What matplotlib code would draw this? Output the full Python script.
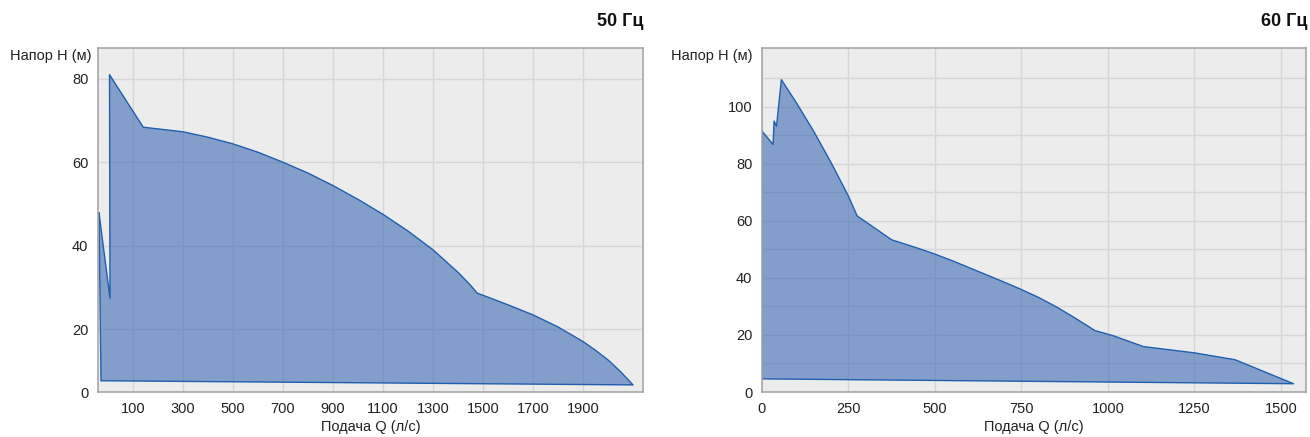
import matplotlib
matplotlib.use("Agg")
import matplotlib.pyplot as plt
import numpy as np

plt.rcParams['font.family'] = ['Liberation Sans', 'DejaVu Sans']

# ---- data: 50 Hz ----
q50_top = [-36, 8, 6, 141, 200, 300, 400, 500, 600, 700, 800, 900, 1000, 1100, 1200, 1300, 1400, 1450, 1477,
           1500, 1600, 1700, 1800, 1900, 1950, 2000, 2050, 2100]
h50_top = [47.8, 27.4, 81.0, 68.4, 68.0, 67.3, 66.0, 64.4, 62.4, 60.0, 57.4, 54.4, 51.1, 47.5, 43.5, 39.0, 33.6, 30.5, 28.6,
           28.1, 25.8, 23.4, 20.5, 17.0, 14.9, 12.6, 9.8, 6.6]
q50_bot = [-28, 2100]
h50_bot = [7.6, 6.6]
x50_ticks = [100, 300, 500, 700, 900, 1100, 1300, 1500, 1700, 1900]
y50_ticks = [20, 40, 60, 80]

# ---- data: 60 Hz ----
q60_top = [0, 32, 35, 42, 56, 100, 150, 200, 250, 275, 375, 450, 500, 550, 600, 650, 700, 750, 800, 850, 900,
           963, 1016, 1103, 1251, 1368, 1537]
h60_top = [91.4, 86.7, 94.9, 93.1, 109.4, 101.2, 91.2, 80.3, 68.6, 61.7, 53.3, 50.4, 48.3, 46.0, 43.5, 41.0, 38.5, 35.9,
           33.1, 29.9, 26.3, 21.5, 19.7, 15.9, 13.7, 11.3, 2.9]
q60_bot = [0, 1537]
h60_bot = [4.6, 2.9]
x60_ticks = [0, 250, 500, 750, 1000, 1250, 1500]
y60_ticks = [0, 20, 40, 60, 80, 100]

titles = ["50 Гц", "60 Гц"]
xlabel = "Подача Q (л/с)"
ylabel = "Напор Н (м)"

W, H = 1310, 437
fig = plt.figure(figsize=(W / 100, H / 100), dpi=100)

BG = '#ececec'
GRID = '#d6d6d6'
FILL = '#3f6bb7'
LINE = '#1f5fae'
SPINE = '#a8a8a8'
FS = 10.5


def make_axes(x0, x1, y0, y1):
    return fig.add_axes([x0 / W, 1 - y1 / H, (x1 - x0) / W, (y1 - y0) / H])


def style(ax):
    ax.set_facecolor(BG)
    for s in ax.spines.values():
        s.set_color(SPINE)
        s.set_linewidth(1.2)
    ax.tick_params(length=0, labelsize=FS, colors='#222222', pad=7)
    ax.grid(True, which='both', color=GRID, linewidth=1)
    ax.set_axisbelow(True)


# ---- left chart ----
ax1 = make_axes(98, 643, 48, 392)
style(ax1)
ylo50 = 4.9
ax1.set_xlim(-40, 2140)
ax1.set_ylim(ylo50, 87.4)
ax1.set_xticks(x50_ticks)
ax1.set_yticks([ylo50] + y50_ticks)
ax1.set_yticklabels(["0"] + [str(v) for v in y50_ticks])
px = np.concatenate([q50_top, q50_bot[::-1]])
py = np.concatenate([h50_top, h50_bot[::-1]])
ax1.fill(px, py, color=FILL, alpha=0.6, lw=0)
ax1.plot(np.append(px, px[0]), np.append(py, py[0]), color=LINE, lw=1.0)

# ---- right chart ----
ax2 = make_axes(762, 1306, 48, 392)
style(ax2)
ax2.set_xlim(0, 1573)
ax2.set_ylim(0, 120.5)
ax2.set_xticks(x60_ticks)
ax2.set_yticks(y60_ticks)
ax2.set_yticks(np.arange(10, 121, 20), minor=True)
ax2.tick_params(which='minor', length=0)
px = np.concatenate([q60_top, q60_bot[::-1]])
py = np.concatenate([h60_top, h60_bot[::-1]])
ax2.fill(px, py, color=FILL, alpha=0.6, lw=0)
ax2.plot(np.append(px, px[0]), np.append(py, py[0]), color=LINE, lw=1.0)

for ax, t, xr, ylx in [(ax1, titles[0], 643, 91), (ax2, titles[1], 1307, 753)]:
    ax.set_xlabel(xlabel, fontsize=FS, color='#222222', labelpad=3)
    fig.text(xr / W, 1 - 21 / H, t, ha='right', va='center', fontsize=13, fontweight='bold', color='#111111')
    fig.text(ylx / W, 1 - 56 / H, ylabel, ha='right', va='center', fontsize=FS, color='#222222')

fig.savefig("out.png", dpi=100, facecolor='white')
